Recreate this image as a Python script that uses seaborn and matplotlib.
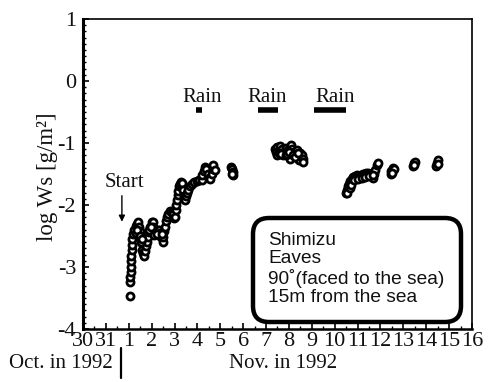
import matplotlib
matplotlib.use("Agg")
import matplotlib.pyplot as plt
import seaborn as sns
import pandas as pd
from matplotlib.patches import FancyBboxPatch
from matplotlib.lines import Line2D
from matplotlib.ticker import MultipleLocator, FixedLocator

# Time of each reading (day of November 1992; 0 = Oct. 31, -1 = Oct. 30)
day = [
    1.05, 1.06, 1.07, 1.08, 1.09, 1.10, 1.11, 1.12, 1.14, 1.16, 1.20, 1.25,
    1.30, 1.36, 1.41, 1.45, 1.49, 1.53, 1.56, 1.60, 1.63, 1.66, 1.70, 1.74,
    1.78, 1.82, 1.87, 1.93, 2.00, 2.04, 2.07, 2.12, 2.17, 2.22, 2.28, 2.33,
    2.38, 2.43, 2.48, 2.51, 2.55, 2.58, 2.62, 2.66, 2.72, 2.80, 2.87, 2.94,
    2.98, 3.02, 3.05, 3.08, 3.10, 3.13, 3.16, 3.20, 3.24, 3.28, 3.31, 3.35,
    3.40, 3.45, 3.50, 3.55, 3.60, 3.67, 3.75, 3.85, 3.97, 4.05,
    1.33, 1.38, 1.47, 1.52, 1.58, 1.90, 1.97, 2.10, 2.25, 2.45,
    4.18, 4.22, 4.27, 4.33, 4.38, 4.45, 4.52, 4.56, 4.62, 4.67, 4.70, 4.76,
    5.48, 5.52, 5.56, 5.55, 5.50,
    7.40, 7.45, 7.50, 7.55, 7.62, 7.70, 7.75, 7.80, 7.88, 7.95, 8.04, 8.10,
    8.15, 8.22, 8.30, 8.35, 8.42, 8.45, 8.50, 8.55, 8.60, 8.63,
    7.48, 7.58, 7.66, 7.85, 7.92, 8.00, 8.18, 8.26, 8.38,
    10.50, 10.53, 10.57, 10.62, 10.68, 10.75, 10.82, 10.90, 10.98, 11.06,
    11.14, 11.22, 11.30, 11.38, 11.46, 11.54, 11.62, 11.68, 11.72, 11.78,
    11.83, 11.88,
    10.55, 10.65, 10.72, 10.86, 11.02, 11.18, 11.34, 11.50, 11.66,
    12.45, 12.48, 12.53, 12.58, 12.50,
    13.42, 13.45, 13.50, 13.48,
    14.43, 14.47, 14.52, 14.50,
]
# log of deposited salt Ws [g/m2]
log_ws = [
    -3.47, -3.24, -3.16, -3.08, -3.00, -2.91, -2.83, -2.73, -2.65, -2.55, -2.47, -2.40,
    -2.34, -2.30, -2.28, -2.35, -2.42, -2.52, -2.62, -2.72, -2.78, -2.83, -2.74, -2.66,
    -2.60, -2.52, -2.44, -2.36, -2.28, -2.27, -2.36, -2.40, -2.43, -2.42, -2.41, -2.40,
    -2.45, -2.52, -2.59, -2.52, -2.42, -2.35, -2.26, -2.19, -2.14, -2.10, -2.12, -2.15,
    -2.21, -2.19, -2.08, -2.00, -1.92, -1.84, -1.77, -1.70, -1.66, -1.63, -1.65, -1.75,
    -1.85, -1.92, -1.86, -1.80, -1.76, -1.70, -1.66, -1.63, -1.62, -1.60,
    -2.45, -2.40, -2.50, -2.60, -2.55, -2.40, -2.35, -2.48, -2.47, -2.46,
    -1.60, -1.52, -1.45, -1.38, -1.42, -1.50, -1.56, -1.58, -1.50, -1.42, -1.36, -1.44,
    -1.38, -1.42, -1.47, -1.52, -1.50,
    -1.10, -1.15, -1.07, -1.12, -1.05, -1.10, -1.20, -1.14, -1.08, -1.12, -1.25, -1.04,
    -1.10, -1.14, -1.18, -1.12, -1.22, -1.27, -1.16, -1.19, -1.26, -1.30,
    -1.20, -1.16, -1.18, -1.20, -1.18, -1.15, -1.20, -1.22, -1.16,
    -1.81, -1.75, -1.70, -1.66, -1.62, -1.58, -1.55, -1.53, -1.52, -1.53,
    -1.51, -1.50, -1.50, -1.49, -1.48, -1.50, -1.53, -1.57, -1.50, -1.43,
    -1.36, -1.33,
    -1.80, -1.72, -1.68, -1.60, -1.58, -1.56, -1.55, -1.54, -1.52,
    -1.50, -1.45, -1.41, -1.42, -1.48,
    -1.37, -1.33, -1.30, -1.35,
    -1.37, -1.32, -1.28, -1.34,
]

tick_days = list(range(-1, 17))
tick_labels = ["30", "31"] + [str(d) for d in range(1, 17)]
y_ticks = [1, 0, -1, -2, -3, -4]

# Rain periods (day of November)
rain_start = [3.96, 6.63, 9.09]
rain_end = [4.22, 7.53, 10.50]
rain_label_x = [4.20, 7.03, 10.00]

info_lines = ["Shimizu", "Eaves", "90˚(faced to the sea)", "15m from the sea"]

sns.set_theme(style="ticks")
plt.rcParams["font.family"] = ["Liberation Serif", "DejaVu Serif"]

fig = plt.figure(figsize=(4.89, 3.82), dpi=100)
ax = fig.add_axes([83 / 489, 1 - 329 / 382, 389 / 489, 310 / 382])

df = pd.DataFrame({"day": day, "log_ws": log_ws})
sns.scatterplot(data=df, x="day", y="log_ws", ax=ax, marker="o", s=26,
                facecolor="white", edgecolor="black", linewidth=2.0,
                legend=False, zorder=3)

ax.set_xlim(-1, 16)
ax.set_ylim(-4, 1)
ax.xaxis.set_major_locator(FixedLocator(tick_days))
ax.set_xticklabels(tick_labels)
ax.xaxis.set_minor_locator(MultipleLocator(0.5))
ax.yaxis.set_major_locator(FixedLocator(y_ticks))
ax.set_yticklabels([str(v) if v >= 0 else "-" + str(-v) for v in y_ticks])
ax.yaxis.set_minor_locator(MultipleLocator(0.1))
ax.tick_params(which="both", direction="in", top=False, right=False,
               colors="black", labelsize=16, labelcolor="#111111")
ax.tick_params(which="major", length=4, width=1.2, pad=2)
ax.tick_params(which="minor", length=2.5, width=1.0)
ax.tick_params(axis="y", pad=5)

for side, lw in [("left", 2.2), ("bottom", 1.8), ("top", 1.2), ("right", 1.2)]:
    ax.spines[side].set_linewidth(lw)
    ax.spines[side].set_color("black")

ax.set_xlabel("")
ax.set_ylabel("log Ws [g/m²]", fontsize=16.5, color="#111111")
ax.yaxis.set_label_coords(-0.065, 0.49)

# rain bars and labels
for x0, x1, xl in zip(rain_start, rain_end, rain_label_x):
    ax.plot([x0, x1], [-0.47, -0.47], color="black", lw=4, solid_capstyle="butt")
    ax.text(xl, -0.27, "Rain", ha="center", va="center", fontsize=15,
            color="#111111")

# start marker
ax.text(0.79, -1.64, "Start", ha="center", va="center", fontsize=15,
        color="#111111")
ax.annotate("", xy=(0.70, -2.27), xytext=(0.70, -1.85),
            arrowprops=dict(arrowstyle="-|>", color="black", lw=1.0,
                            mutation_scale=9, shrinkA=0, shrinkB=0))

# site information box
box = FancyBboxPatch((2.53, 0.60), 2.08, 1.04,
                     boxstyle="round,pad=0,rounding_size=0.16",
                     transform=fig.dpi_scale_trans, facecolor="white",
                     edgecolor="black", linewidth=3.2, zorder=5)
fig.patches.append(box)
fig.text(2.68 / 4.89, 1.13 / 3.82, "\n".join(info_lines), ha="left",
         va="center", fontsize=13.8, linespacing=1.1,
         family=["Liberation Sans", "DejaVu Sans"], color="#111111", zorder=6)

# month captions below the axis
fig.text(61 / 489, 1 - 363 / 382, "Oct. in 1992", ha="center", va="center",
         fontsize=15, color="#111111")
fig.text(283 / 489, 1 - 363 / 382, "Nov. in 1992", ha="center", va="center",
         fontsize=15, color="#111111")
fig.add_artist(Line2D([121 / 489, 121 / 489], [1 - 378 / 382, 1 - 348 / 382],
                      transform=fig.transFigure, color="black", lw=1.6))

fig.savefig("out.png", dpi=100)
